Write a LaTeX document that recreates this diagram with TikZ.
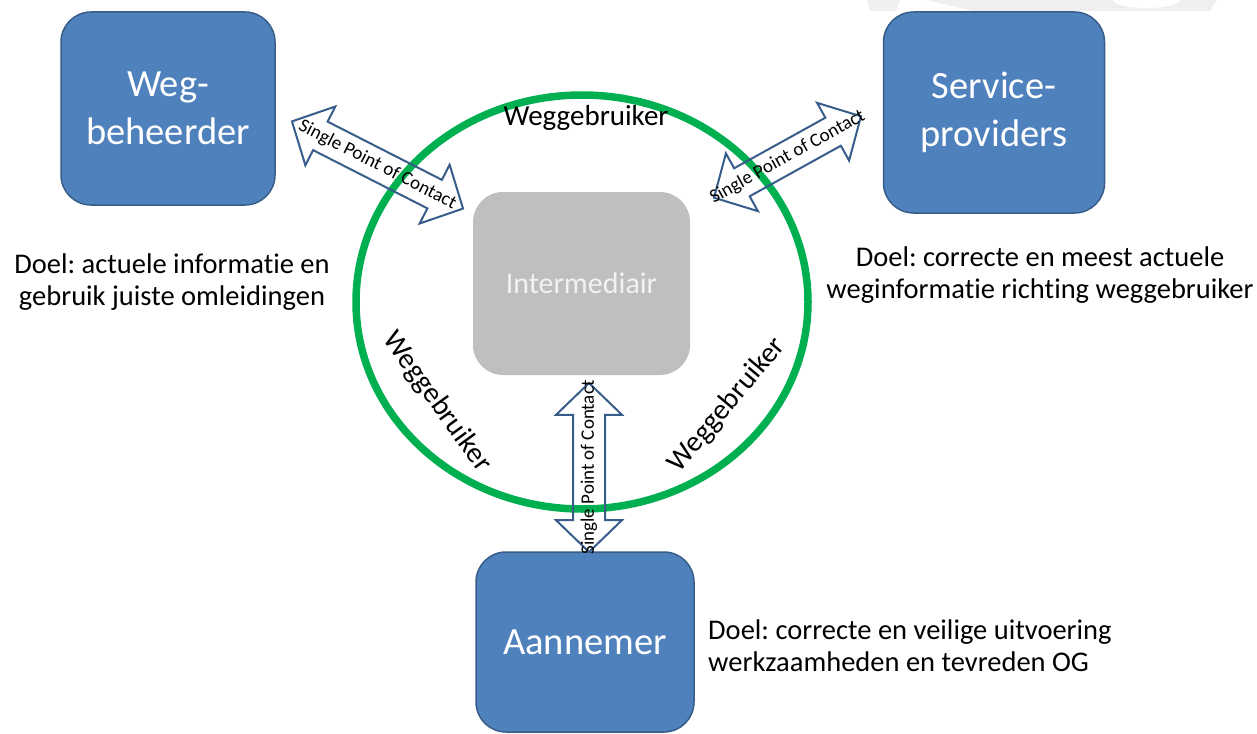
\documentclass[tikz,border=0pt]{standalone}
\usepackage{fontspec}
\setmainfont{Carlito}[Ligatures=CommonOff]
\frenchspacing
\usetikzlibrary{shapes.arrows}
\definecolor{boxblue}{HTML}{4F81BD}
\definecolor{boxedge}{HTML}{385D8A}
\definecolor{ringgreen}{HTML}{00B050}
\definecolor{midgray}{HTML}{BFBFBF}
\definecolor{markgray}{HTML}{EFEFEF}
\newcommand{\spoc}[4]{
    \node[spocarrow, rotate=#3, minimum height=#4] (#1) at (#2) {};
    \node[spoctext, rotate=#3] at (#1.center) {Single Point of Contact};
}
\begin{document}
\begin{tikzpicture}[x=1pt,y=-1pt,
    party/.style={draw=boxedge, line width=1.5pt, fill=boxblue, rounded corners=30pt,
        text=white, align=center, inner sep=0pt, font=\fontsize{38.5}{48}\selectfont},
    goal/.style={align=center, inner sep=0pt, font=\fontsize{28.5}{32}\selectfont},
    road/.style={inner sep=0pt, font=\fontsize{29}{32}\selectfont},
    spocarrow/.style={double arrow, draw=boxedge, line width=2pt, inner ysep=8pt, inner xsep=0pt,
        text height=14pt, text depth=0pt, double arrow head extend=17pt, double arrow tip angle=92},
    spoctext/.style={inner sep=0pt, font=\fontsize{19}{21}\selectfont}]
    \useasboundingbox (0,0) rectangle (1257,733);

    % faint mark at the top edge
    \fill[markgray] (867,0) -- (900,0) -- (896,11) -- (870,11) -- cycle;
    \fill[markgray] (927,0) -- (1217,0) -- (1210,11) -- (973,11) -- cycle;
    \fill[white] (1113,0) arc[start angle=180, end angle=0, x radius=33.5, y radius=8] -- cycle;

    % parties
    \node[party, minimum width=214pt, minimum height=193pt] (wegbeheerder) at (168,108.5) {Weg-\\beheerder};
    \node[party, minimum width=221pt, minimum height=201pt] (providers) at (994,112.5) {Service-\\providers};
    \node[party, minimum width=218pt, minimum height=180pt] (aannemer) at (585,642) {Aannemer};
    \node[fill=midgray, rounded corners=30pt, minimum width=217pt, minimum height=183pt,
        text=white!95!black, font=\fontsize{30}{36}\selectfont] (intermediair) at (581.5,283.5) {Intermediair};

    % road users
    \draw[ringgreen, line width=7.5pt] (582,302) ellipse[x radius=226, y radius=207];
    \node[road] (wgtop) at (586,118) {Weggebruiker};
    \node[road, rotate=-54] (wgleft) at (437,402) {Weggebruiker};
    \node[road, rotate=50] (wgright) at (727,405) {Weggebruiker};

    % single point of contact
    \spoc{spocleft}{377.5,165}{-27}{192pt}
    \spoc{spocright}{787.5,157}{29}{168pt}
    \spoc{spocdown}{589,467.5}{90}{169pt}

    % goals
    \node[goal] (doelweg) at (172,282) {Doel: actuele informatie en\\gebruik juiste omleidingen};
    \node[goal] (doelprov) at (1040,275) {Doel: correcte en meest actuele\\weginformatie richting weggebruiker};
    \node[goal, align=left, anchor=west] (doelaan) at (708,646) {Doel: correcte en veilige uitvoering\\werkzaamheden en tevreden OG};
\end{tikzpicture}
\end{document}
